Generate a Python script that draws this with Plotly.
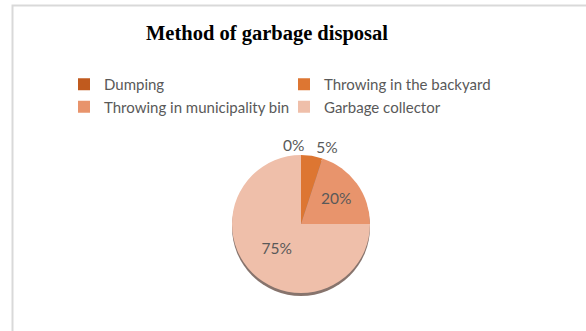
import plotly.graph_objects as go

categories = ["Dumping", "Throwing in the backyard", "Throwing in municipality bin", "Garbage collector"]
values = [0, 5, 20, 75]
colors = ["#C05A1E", "#DD7632", "#E8946C", "#EFBFAA"]
text_positions = ["outside", "outside", "inside", "inside"]
# the zero slice label is written as a separate annotation (plotly would add a leader line)
text_templates = ["", "%{percent:.0%}", "%{percent:.0%}", "%{percent:.0%}"]

W, H = 586, 331
cx, cy, r = 301, 224, 69
label_font = dict(family="Lato", size=15.5, color="#595959")

def dom(dx=0, dy=0):
    return dict(x=[(cx + dx - r) / W, (cx + dx + r) / W],
                y=[(H - cy - dy - r) / H, (H - cy - dy + r) / H])

fig = go.Figure()

# soft shadow under the pie (3D look of the original)
fig.add_trace(go.Pie(
    values=[sum(values)],
    labels=["shadow"],
    sort=False,
    marker=dict(colors=["rgba(95,70,60,0.75)"], line=dict(width=0)),
    textinfo="none",
    showlegend=False,
    hoverinfo="skip",
    domain=dom(0, 3),
))

fig.add_trace(go.Pie(
    labels=categories,
    values=values,
    sort=False,
    direction="clockwise",
    rotation=0,
    marker=dict(colors=colors, line=dict(width=0)),
    texttemplate=text_templates,
    textposition=text_positions,
    insidetextorientation="horizontal",
    textfont=label_font,
    outsidetextfont=label_font,
    showlegend=True,
    domain=dom(),
    hoverinfo="label+percent",
))

zero_label = f"{values[0]}%"

fig.update_layout(
    width=W, height=H,
    margin=dict(l=0, r=0, t=0, b=0),
    paper_bgcolor="white",
    plot_bgcolor="white",
    title=dict(text="<b>Method of garbage disposal</b>", x=267 / W, xanchor="center",
               y=1 - 33 / H, yanchor="middle",
               font=dict(family="Liberation Serif", size=20.5, color="#000000")),
    legend=dict(orientation="h", x=64 / W, xanchor="left", y=1 - 68 / H, yanchor="top",
                entrywidth=175, entrywidthmode="pixels", traceorder="normal",
                font=dict(family="Lato", size=15, color="#595959"), bgcolor="rgba(0,0,0,0)"),
    annotations=[dict(text=zero_label, xref="paper", yref="paper", x=(cx - 8) / W, y=1 - 145 / H,
                      xanchor="center", yanchor="middle", showarrow=False, font=label_font)],
    shapes=[dict(type="rect", xref="paper", yref="paper", x0=12.5 / W, x1=1.05, y0=-0.05, y1=1 - 5.5 / H,
                 line=dict(color="#D9D9D9", width=2), fillcolor="rgba(0,0,0,0)", layer="below")],
)

fig.write_html("out.html", config={"displayModeBar": False},
               post_script="document.body.style.margin='0px';")
